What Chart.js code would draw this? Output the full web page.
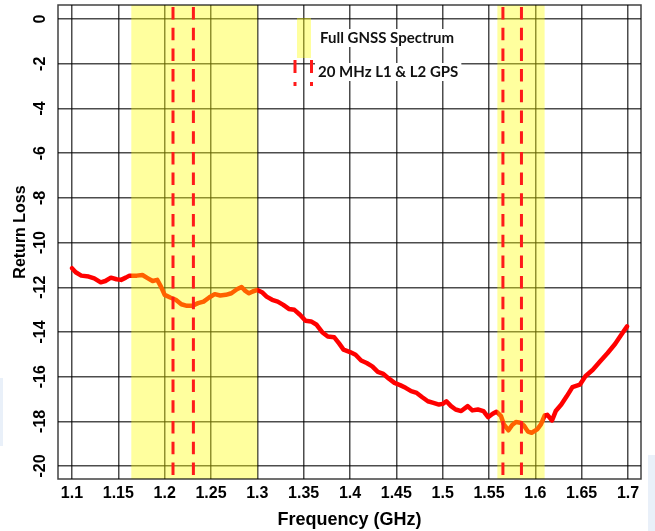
<!DOCTYPE html>
<html><head><meta charset="utf-8">
<script src="https://cdn.jsdelivr.net/npm/chart.js@4.4.1/dist/chart.umd.min.js"></script>
<style>
html,body{margin:0;padding:0;background:#fff;}
#wrap{position:relative;width:655px;height:531px;overflow:hidden;}
.bl{position:absolute;background:#e9f0f9;}
canvas{position:absolute;left:0;top:0;}
</style></head><body>
<div id="wrap">
<div class="bl" style="left:0;top:378px;width:3px;height:68px"></div>
<div class="bl" style="left:648px;top:455px;width:7px;height:76px"></div>
<canvas id="c" width="655" height="531"></canvas>
</div>
<script>
const freqGHz = [1.100,1.104,1.110,1.118,1.124,1.131,1.136,1.142,1.148,1.153,1.158,1.162,1.170,1.176,1.182,1.187,1.192,1.196,1.200,1.206,1.212,1.218,1.224,1.230,1.236,1.242,1.248,1.254,1.260,1.266,1.272,1.278,1.283,1.287,1.291,1.295,1.300,1.305,1.310,1.316,1.322,1.328,1.334,1.340,1.346,1.352,1.358,1.364,1.370,1.376,1.383,1.388,1.393,1.400,1.406,1.412,1.418,1.424,1.430,1.436,1.442,1.448,1.454,1.460,1.466,1.472,1.478,1.484,1.490,1.496,1.500,1.504,1.509,1.514,1.520,1.527,1.532,1.538,1.544,1.549,1.554,1.558,1.563,1.566,1.571,1.575,1.579,1.584,1.588,1.592,1.596,1.602,1.606,1.610,1.613,1.618,1.622,1.628,1.634,1.640,1.648,1.654,1.662,1.670,1.678,1.686,1.694,1.699];
const returnLoss = [-11.15,-11.33,-11.48,-11.52,-11.60,-11.78,-11.72,-11.57,-11.64,-11.67,-11.57,-11.48,-11.48,-11.45,-11.60,-11.72,-11.67,-11.97,-12.34,-12.46,-12.56,-12.76,-12.83,-12.83,-12.71,-12.64,-12.46,-12.31,-12.37,-12.34,-12.27,-12.09,-11.99,-12.16,-12.27,-12.19,-12.12,-12.22,-12.42,-12.56,-12.64,-12.79,-12.97,-13.01,-13.23,-13.50,-13.53,-13.68,-14.01,-14.20,-14.24,-14.50,-14.79,-14.90,-15.02,-15.28,-15.39,-15.54,-15.79,-15.88,-16.09,-16.28,-16.38,-16.50,-16.65,-16.73,-16.92,-17.10,-17.17,-17.25,-17.22,-17.10,-17.32,-17.47,-17.54,-17.32,-17.51,-17.47,-17.54,-17.81,-17.66,-17.57,-17.77,-18.14,-18.40,-18.16,-18.03,-18.06,-18.21,-18.46,-18.51,-18.36,-18.14,-17.74,-17.71,-17.96,-17.54,-17.25,-16.87,-16.47,-16.36,-15.98,-15.69,-15.31,-14.94,-14.54,-14.05,-13.75];
const xTicks = [1.1,1.15,1.2,1.25,1.3,1.35,1.4,1.45,1.5,1.55,1.6,1.65,1.7];
const yTicks = [0,-2,-4,-6,-8,-10,-12,-14,-16,-18,-20];
const gnssBands = [[1.164,1.300],[1.559,1.610]];
const gpsLines = [1.209,1.231,1.565,1.585];
const legendLabels = ['Full GNSS Spectrum','20 MHz L1 & L2 GPS'];
const xTitle = 'Frequency (GHz)';
const yTitle = 'Return Loss';

const YELLOW = 'rgba(255,255,0,0.38)';
const DASHRED = '#ff1a1a';
const GRID = 'rgba(0,0,0,0.7)';
const AXFAMILY = '"Liberation Sans", Arial, sans-serif';

const overlay = {
  id:'overlay',
  afterDatasetsDraw(chart){
    const {ctx, chartArea:a, scales:{x}} = chart;
    ctx.save();
    ctx.beginPath(); ctx.rect(a.left,a.top,a.right-a.left,a.bottom-a.top); ctx.clip();
    ctx.fillStyle = YELLOW;
    gnssBands.forEach(([f0,f1])=>{
      const x0 = x.getPixelForValue(f0), x1 = x.getPixelForValue(f1);
      ctx.fillRect(x0,a.top,x1-x0,a.bottom-a.top);
    });
    ctx.strokeStyle = DASHRED; ctx.lineWidth = 3; ctx.setLineDash([12.5,8.2]);
    gpsLines.forEach(f=>{
      const px = x.getPixelForValue(f);
      ctx.beginPath(); ctx.moveTo(px,a.top+2); ctx.lineTo(px,a.bottom); ctx.stroke();
    });
    ctx.restore();

    // legend
    ctx.save();
    ctx.fillStyle = YELLOW;
    ctx.fillRect(297,18,14,40);
    ctx.strokeStyle = DASHRED; ctx.lineWidth = 3; ctx.setLineDash([13,9]);
    [295,311.5].forEach(px=>{ctx.beginPath(); ctx.moveTo(px,60); ctx.lineTo(px,86); ctx.stroke();});
    ctx.setLineDash([]);
    ctx.font = 'bold 15px Lato, "Open Sans", sans-serif';
    ctx.textBaseline = 'middle'; ctx.textAlign = 'left';
    const items = [[320,38],[318,72]];
    legendLabels.forEach((t,i)=>{
      const [lx,ly] = items[i];
      const w = ctx.measureText(t).width;
      ctx.fillStyle = '#fff';
      ctx.fillRect(lx-3, ly-9, w+6, 18);
      ctx.fillStyle = '#111';
      ctx.fillText(t, lx, ly);
    });
    ctx.restore();

    // box
    ctx.save();
    ctx.strokeStyle = 'rgba(0,0,0,0.75)'; ctx.lineWidth = 1.5;
    ctx.strokeRect(a.left,a.top,a.right-a.left,a.bottom-a.top);
    ctx.restore();
  },
  afterDraw(chart){
    const {ctx, chartArea:a, scales:{y}} = chart;
    ctx.save();
    ctx.fillStyle = '#000';
    ctx.font = 'bold 16px ' + AXFAMILY;
    ctx.textAlign = 'center'; ctx.textBaseline = 'middle';
    yTicks.forEach(v=>{
      const py = y.getPixelForValue(v);
      ctx.save(); ctx.translate(41,py); ctx.rotate(-Math.PI/2);
      ctx.fillText(String(v),0,0); ctx.restore();
    });
    ctx.font = 'bold 16px ' + AXFAMILY;
    ctx.save(); ctx.translate(21,232); ctx.rotate(-Math.PI/2);
    ctx.fillText(yTitle,0,0); ctx.restore();
    ctx.font = 'bold 18px ' + AXFAMILY;
    ctx.fillText(xTitle,(a.left+a.right)/2,520);
    ctx.restore();
  }
};

new Chart(document.getElementById('c'),{
  type:'line',
  data:{datasets:[{
    data: freqGHz.map((f,i)=>({x:f,y:returnLoss[i]})),
    borderColor:'#ff0000', borderWidth:4.5, pointRadius:0, tension:0,
    borderJoinStyle:'round', borderCapStyle:'round', fill:false
  }]},
  options:{
    responsive:false, animation:false, devicePixelRatio:1,
    layout:{padding:{top:5,right:14,left:0,bottom:0}},
    plugins:{legend:{display:false},tooltip:{enabled:false}},
    scales:{
      x:{type:'linear',min:1.0849,max:1.714,
        afterBuildTicks:s=>{s.ticks=xTicks.map(v=>({value:v}));},
        afterFit:s=>{s.height=52;},
        grid:{color:GRID,lineWidth:1.5,drawTicks:false},
        border:{display:false},
        ticks:{font:{family:AXFAMILY,weight:'bold',size:16},color:'#000',padding:5,maxRotation:0,minRotation:0,autoSkip:false,callback:v=>String(v)}
      },
      y:{type:'linear',min:-20.58,max:0.63,
        afterBuildTicks:s=>{s.ticks=yTicks.map(v=>({value:v}));},
        afterFit:s=>{s.width=58;},
        grid:{color:GRID,lineWidth:1.5,drawTicks:false},
        border:{display:false},
        ticks:{display:false}
      }
    }
  },
  plugins:[overlay]
});
</script>
</body></html>
